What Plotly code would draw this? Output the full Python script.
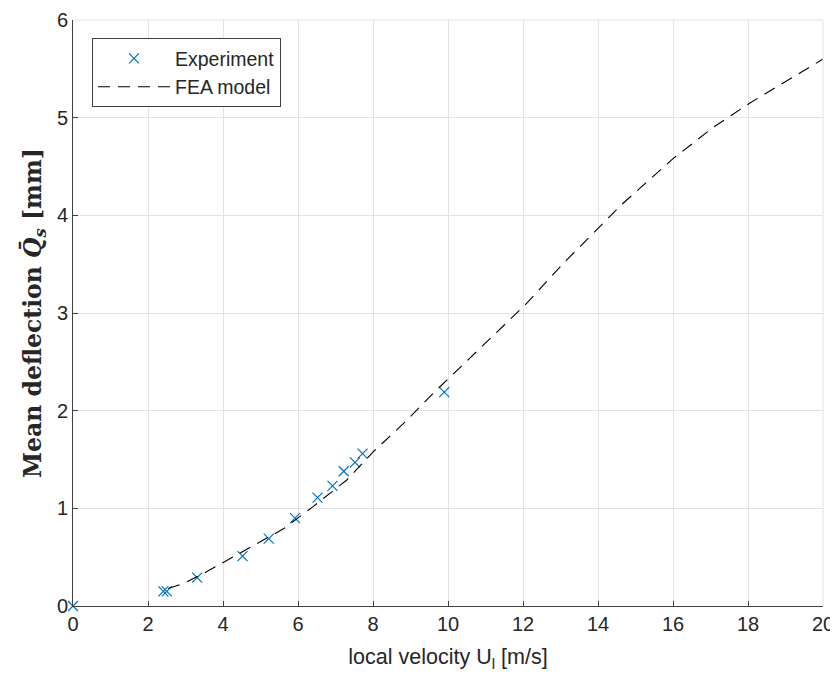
import plotly.graph_objects as go

exp_velocity = [0.0, 2.41, 2.50, 3.31, 4.52, 5.22, 5.92, 6.52, 6.92, 7.22, 7.52, 7.72, 9.90]
exp_deflection = [0.0, 0.15, 0.15, 0.29, 0.51, 0.69, 0.90, 1.11, 1.23, 1.38, 1.47, 1.56, 2.19]

fea_velocity = [2.54, 2.94, 3.56, 4.54, 5.61, 6.41, 7.30, 8.01, 8.90, 9.61, 9.88, 10.48,
                11.85, 12.05, 13.08, 13.87, 14.63, 16.0, 17.07, 18.05, 19.03, 20.0]
fea_deflection = [0.18, 0.23, 0.35, 0.56, 0.79, 1.02, 1.29, 1.58, 1.90, 2.18, 2.28, 2.50,
                  3.00, 3.08, 3.51, 3.82, 4.11, 4.58, 4.90, 5.15, 5.38, 5.60]

x_ticks = [0, 2, 4, 6, 8, 10, 12, 14, 16, 18, 20]
y_ticks = [0, 1, 2, 3, 4, 5, 6]

SANS = "Liberation Sans, Arial, sans-serif"

fig = go.Figure()
fig.add_trace(go.Scatter(
    x=exp_velocity, y=exp_deflection, mode="markers", name="Experiment",
    marker=dict(symbol="x-thin", size=10, color="#0072BD",
                line=dict(color="#0072BD", width=1.2)),
    cliponaxis=False,
))
fig.add_trace(go.Scatter(
    x=fea_velocity, y=fea_deflection, mode="lines", name="FEA model",
    line=dict(color="black", width=1.1, dash="12px,8px"),
))

axis_common = dict(
    showgrid=True, gridcolor="#e3e3e3", gridwidth=1, automargin=False,
    zeroline=False, showline=True, linecolor="#404040", linewidth=1,
    ticks="inside", ticklen=5, tickcolor="#404040", mirror=False,
    tickfont=dict(family=SANS, size=20, color="#262626"),
)

fig.update_layout(
    width=830, height=664,
    margin=dict(l=65, r=15, t=12, b=66),
    paper_bgcolor="white", plot_bgcolor="white",
    xaxis=dict(range=[0, 20], tickvals=x_ticks, **axis_common,
               title=dict(text="local velocity U<sub>l</sub> [m/s]",
                          font=dict(family=SANS, size=21.5, color="#262626"),
                          standoff=17)),
    yaxis=dict(range=[0, 6], tickvals=y_ticks, **axis_common,
               title=dict(text="<b>Mean deflection <i>Q̄</i><sub><i>s</i></sub> [mm]</b>",
                          font=dict(family="DejaVu Serif, Liberation Serif, serif", size=23.5, color="#262626"),
                          standoff=8)),
    legend=dict(x=0.0253, y=0.969, xanchor="left", yanchor="top",
                bgcolor="white", bordercolor="#404040", borderwidth=1,
                font=dict(family=SANS, size=19.5, color="#262626"),
                itemwidth=72, tracegroupgap=0),
    showlegend=True,
)

# Top and right grid borders
fig.add_shape(type="line", xref="paper", yref="paper", x0=0, x1=1, y0=1, y1=1,
              line=dict(color="#e3e3e3", width=1))
fig.add_shape(type="line", xref="paper", yref="paper", x0=1, x1=1, y0=0, y1=1,
              line=dict(color="#e3e3e3", width=1))

fig.write_html("out.html")
